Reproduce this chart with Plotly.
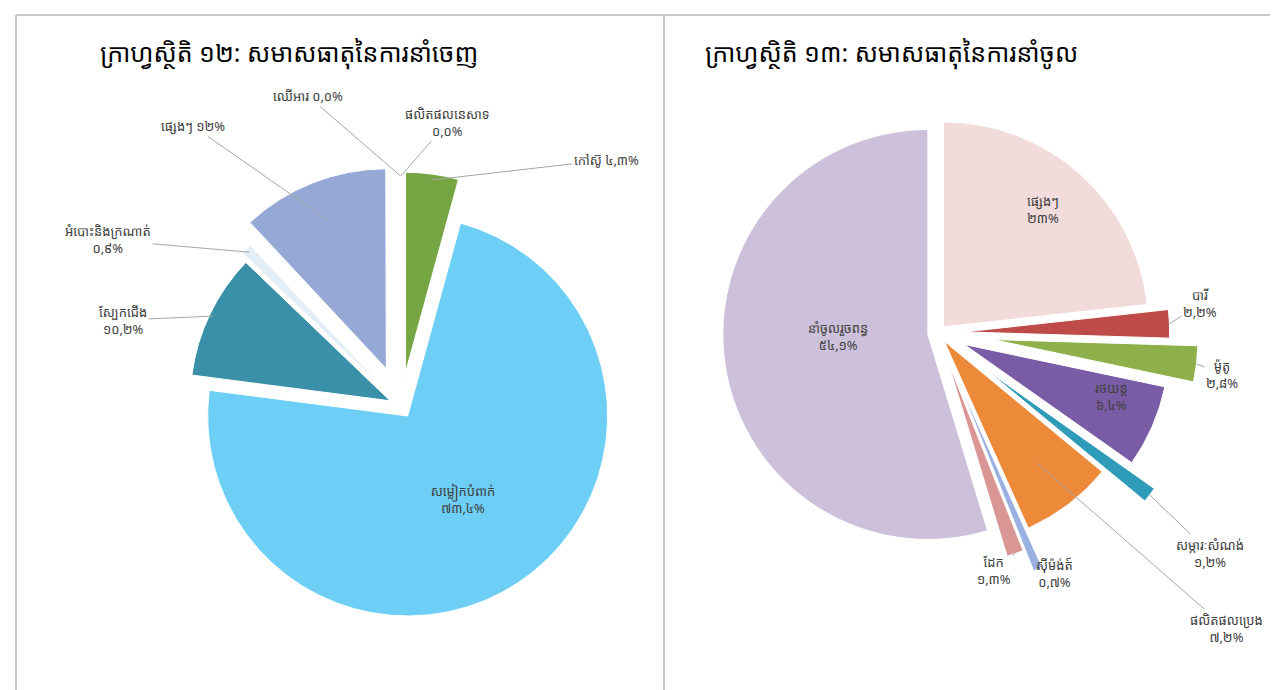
import math
import plotly.graph_objects as go

W, H = 1278, 690

# ---------------- data ----------------
exp_title = "ក្រាហ្វស្ថិតិ ១២: សមាសធាតុនៃការនាំចេញ"
exp_labels = ["កៅស៊ូ", "សម្លៀកបំពាក់", "ស្បែកជើង", "អំបោះនិងក្រណាត់", "ផ្សេងៗ", "ឈើអារ", "ផលិតផលនេសាទ"]
exp_values = [4.3, 73.4, 10.2, 0.9, 12.0, 0.02, 0.02]

imp_title = "ក្រាហ្វស្ថិតិ ១៣: សមាសធាតុនៃការនាំចូល"
imp_labels = ["ផ្សេងៗ", "បារី", "ម៉ូតូ", "រថយន្ត", "សម្ភារៈសំណង់", "ផលិតផលប្រេង", "ស៊ីម៉ង់ត៍", "ដែក", "នាំចូលរួចពន្ធ"]
imp_values = [23.0, 2.2, 2.8, 6.4, 1.2, 7.2, 0.7, 1.3, 54.1]

# ---------------- styles ----------------
exp_colors = ["#76A543", "#6DCFF6", "#3990A8", "#E4EEF7", "#95A8D6", "#C0504D", "#F79646"]
exp_pull = [0.17, 0.06, 0.06, 0.1, 0.2, 0.0, 0.0]
exp_pos = ["none", "inside", "none", "none", "none", "none", "none"]
exp_sep = [" ", "<br>", "<br>", "<br>", " ", " ", "<br>"]
# label text centres (pixels) for callout labels, None = plotly inside text
exp_lab_xy = [(598, 152), None, (115, 312), (100, 232), (185, 118), (300, 88), (440, 114)]
exp_rfrac = [0.97, 1, 0.98, 0.98, 0.8, 1.15, 1.15]
exp_arrow = [True] * 7

imp_colors = ["#F2DCDB", "#BE4B48", "#8DB04A", "#7A5BA5", "#2E9BB8", "#EC8A3A", "#9AB0E0", "#D99694", "#CCC0DA"]
imp_pull = [0.04, 0.13, 0.27, 0.14, 0.3, 0.05, 0.25, 0.14, 0.05]
imp_pos = ["none"] * 9
imp_lab_xy = [(1053, 182), (1192, 296), (1214, 366), (1122, 388), (1202, 545), (1218, 620),
              (1046, 565), (986, 562), (862, 328)]
imp_rfrac = [1, 1.0, 1.0, 1, 1.0, 0.75, 1.0, 1.0, 1]
imp_arrow = [False, True, True, False, True, True, True, True, False]

EXP_C, EXP_R = (393, 398), 200
IMP_C, IMP_R = (930, 325), 205

KH = str.maketrans("0123456789", "០១២៣៤៥៦៧៨៩")


def kh_pct(v):
    s = f"{v:.0f}" if float(v).is_integer() else f"{v:.1f}".replace(".", ",")
    return s.translate(KH) + "%"


def dom(c, half):
    return dict(x=[(c[0] - half) / W, (c[0] + half) / W],
                y=[1 - (c[1] + half) / H, 1 - (c[1] - half) / H])


FONT = "Noto Sans Khmer, Khmer OS, Khmer OS System, Noto Sans, DejaVu Sans, sans-serif"
LFONT = dict(size=13, color="#404040", family=FONT)

fig = go.Figure()


def add_pie(labels, values, colors, pull, pos, c, r, sep, name):
    txt = [f"{l}{s}{kh_pct(v)}" for l, v, s in zip(labels, values, sep)]
    half = r * (1 + max(pull))
    fig.add_trace(go.Pie(
        labels=labels, values=values, text=txt, textinfo="text",
        textposition=pos, insidetextorientation="horizontal",
        marker=dict(colors=colors, line=dict(color="white", width=1)),
        pull=pull, sort=False, direction="clockwise", rotation=0,
        domain=dom(c, half), showlegend=False, hoverinfo="label+percent",
        textfont=LFONT, name=name))
    return txt


def add_callouts(values, pull, c, r, lab_xy, rfrac, arrow, txt):
    tot = sum(values)
    cum = 0
    for i, v in enumerate(values):
        mid = (cum + v / 2) / tot * 2 * math.pi
        cum += v
        if lab_xy[i] is None:
            continue
        tx, ty = lab_xy[i]
        if not arrow[i]:
            fig.add_annotation(x=tx / W, y=1 - ty / H, xref="paper", yref="paper", text=txt[i],
                               showarrow=False, font=LFONT, align="center")
            continue
        rr = r * rfrac[i] + pull[i] * r
        hx = c[0] + rr * math.sin(mid)
        hy = c[1] - rr * math.cos(mid)
        fig.add_annotation(x=hx / W, y=1 - hy / H, xref="paper", yref="paper",
                           ax=tx - hx, ay=ty - hy, text=txt[i], showarrow=True,
                           arrowhead=0, arrowwidth=1, arrowcolor="#A6A6A6", standoff=0,
                           font=LFONT, align="center")


exp_txt = add_pie(exp_labels, exp_values, exp_colors, exp_pull, exp_pos, EXP_C, EXP_R, exp_sep, "exp")
imp_txt = add_pie(imp_labels, imp_values, imp_colors, imp_pull, imp_pos, IMP_C, IMP_R,
                  ["<br>"] * len(imp_labels), "imp")
add_callouts(exp_values, exp_pull, EXP_C, EXP_R, exp_lab_xy, exp_rfrac, exp_arrow, exp_txt)
add_callouts(imp_values, imp_pull, IMP_C, IMP_R, imp_lab_xy, imp_rfrac, imp_arrow, imp_txt)

for t, x in [(exp_title, 90), (imp_title, 695)]:
    fig.add_annotation(x=x / W, y=1 - 45 / H, xref="paper", yref="paper", text=t, showarrow=False,
                       xanchor="left", yanchor="middle", font=dict(size=25, color="black", family=FONT))

line = dict(color="#C8C8C8", width=2)
fig.add_shape(type="line", xref="paper", yref="paper", x0=8 / W, x1=1, y0=1 - 7 / H, y1=1 - 7 / H, line=line)
fig.add_shape(type="line", xref="paper", yref="paper", x0=8 / W, x1=8 / W, y0=0, y1=1 - 7 / H, line=line)
fig.add_shape(type="line", xref="paper", yref="paper", x0=656 / W, x1=656 / W, y0=0, y1=1 - 7 / H, line=line)

fig.update_layout(width=W, height=H, margin=dict(l=0, r=0, t=0, b=0),
                  paper_bgcolor="white", plot_bgcolor="white", font=dict(family=FONT))
fig.write_html("out.html")
